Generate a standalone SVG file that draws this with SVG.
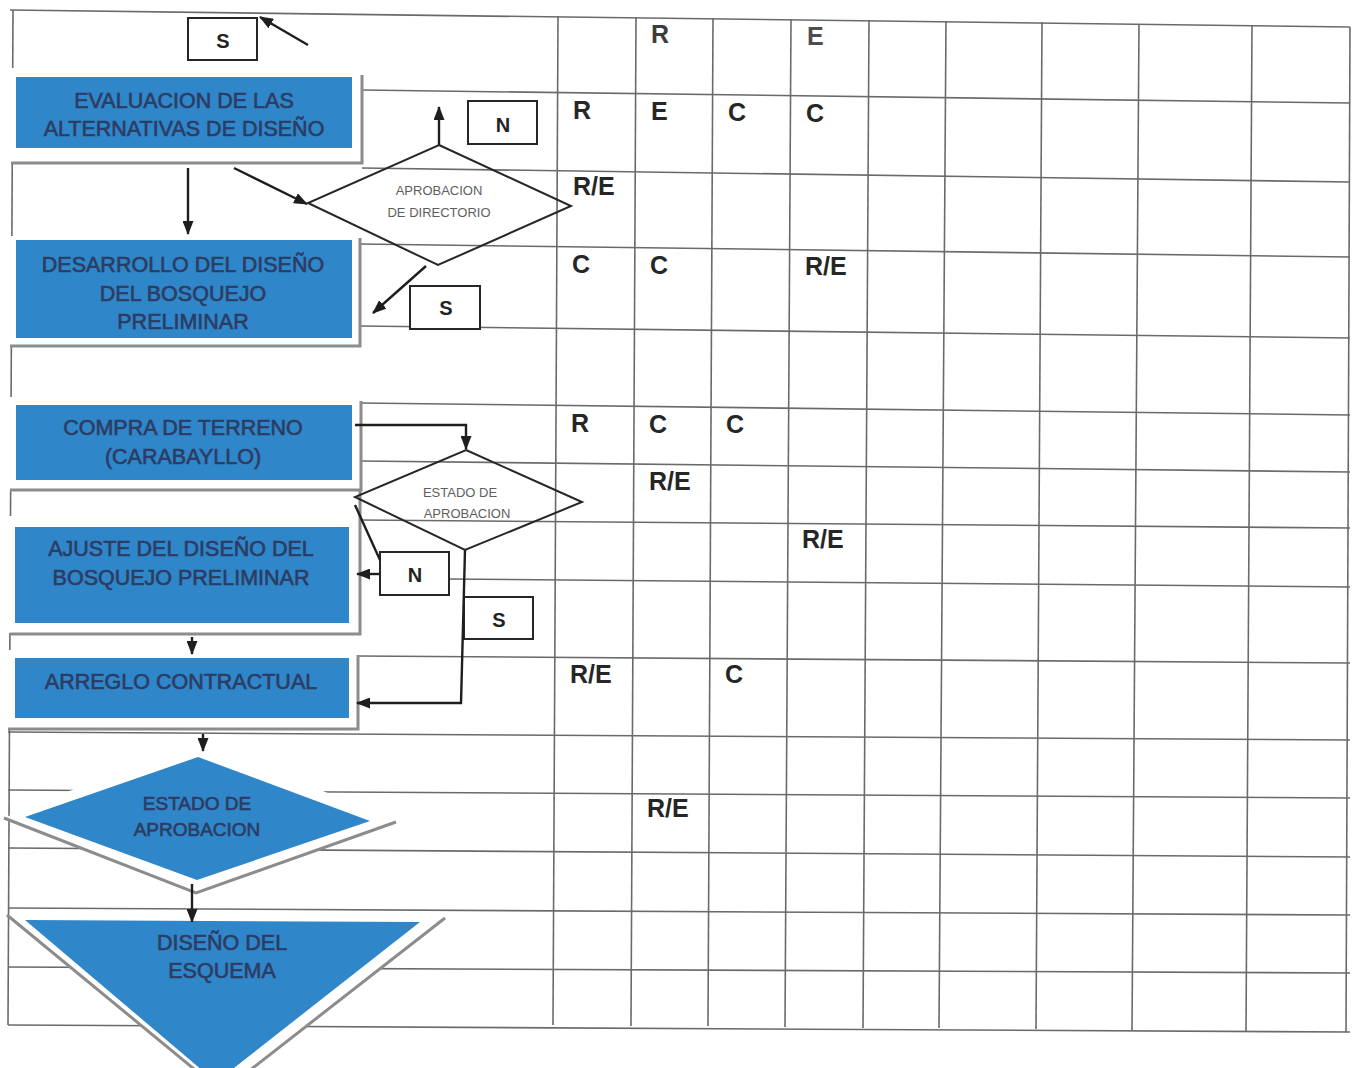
<svg xmlns="http://www.w3.org/2000/svg" width="1355" height="1068" viewBox="0 0 1355 1068">
  <defs>
    <marker id="ah" viewBox="0 0 14 11" refX="13" refY="5.5" markerWidth="14" markerHeight="11" markerUnits="userSpaceOnUse" orient="auto">
      <path d="M0,0 L14,5.5 L0,11 z" fill="#1e1e1e"/>
    </marker>
    <style>
      .grid line { stroke: #6a6a6a; stroke-width: 1.6; }
      .halo { fill: #ffffff; stroke: none; }
      .shadow { fill: none; stroke: #8c8c8c; stroke-width: 3; }
      .blue { fill: #2f86c8; stroke: none; }
      .lbl { font-family: "Liberation Sans", Arial, sans-serif; font-size: 21.5px; fill: #2c3c64; stroke: #2c3c64; stroke-width: 0.6; text-anchor: middle; }
      .dlbl { font-family: "Liberation Sans", Arial, sans-serif; font-size: 13px; fill: #5e5e5e; text-anchor: middle; }
      .wd { fill: none; stroke: #262626; stroke-width: 2; }
      .tag rect { fill: #ffffff; stroke: #262626; stroke-width: 2; }
      .tag text { font-family: "Liberation Sans", Arial, sans-serif; font-size: 20px; font-weight: bold; fill: #222222; text-anchor: middle; }
      .raci { font-family: "Liberation Sans", Arial, sans-serif; font-size: 25px; font-weight: bold; fill: #262626; }
      .conn line, .conn path { fill: none; stroke: #1e1e1e; stroke-width: 2.4; }
    </style>
  </defs>

  <rect width="1355" height="1068" fill="#ffffff"/>

  <!-- responsibility matrix grid -->
  <g id="grid" class="grid">
    <line x1="10" y1="10" x2="1350" y2="27"/>
    <line x1="362" y1="90" x2="1350" y2="103"/>
    <line x1="362" y1="168" x2="1350" y2="182"/>
    <line x1="360" y1="244" x2="1350" y2="257"/>
    <line x1="360" y1="326" x2="1350" y2="338"/>
    <line x1="360" y1="403" x2="1350" y2="415"/>
    <line x1="360" y1="461" x2="1350" y2="472"/>
    <line x1="360" y1="520" x2="1350" y2="528"/>
    <line x1="449" y1="579" x2="1350" y2="587"/>
    <line x1="358" y1="656" x2="1350" y2="663"/>
    <line x1="8" y1="732" x2="1350" y2="740"/>
    <line x1="8" y1="790" x2="1350" y2="798"/>
    <line x1="8" y1="848" x2="1350" y2="857"/>
    <line x1="8" y1="908" x2="1350" y2="915"/>
    <line x1="8" y1="967" x2="1350" y2="973"/>
    <line x1="8" y1="1025" x2="1350" y2="1032"/>
    <line x1="13" y1="10" x2="8" y2="1025"/>
    <line x1="558" y1="16" x2="553" y2="1025"/>
    <line x1="636" y1="17" x2="631" y2="1026"/>
    <line x1="713" y1="18" x2="708" y2="1026"/>
    <line x1="791" y1="19" x2="785" y2="1027"/>
    <line x1="869" y1="20" x2="863" y2="1028"/>
    <line x1="946" y1="21" x2="939" y2="1028"/>
    <line x1="1042" y1="22" x2="1036" y2="1029"/>
    <line x1="1139" y1="24" x2="1132" y2="1030"/>
    <line x1="1252" y1="25" x2="1246" y2="1031"/>
    <line x1="1350" y1="27" x2="1346" y2="1032"/>
  </g>

  <!-- matrix entries -->
  <g id="matrix-entries" class="raci">
    <text x="651" y="43" fill="#3c3c3c">R</text>
    <text x="807" y="45" fill="#4e4e4e">E</text>
    <text x="573" y="119">R</text>
    <text x="651" y="120">E</text>
    <text x="728" y="121">C</text>
    <text x="806" y="122">C</text>
    <text x="573" y="195">R/E</text>
    <text x="572" y="273">C</text>
    <text x="650" y="274">C</text>
    <text x="805" y="275">R/E</text>
    <text x="571" y="432">R</text>
    <text x="649" y="433">C</text>
    <text x="726" y="433">C</text>
    <text x="649" y="490">R/E</text>
    <text x="802" y="548">R/E</text>
    <text x="570" y="683">R/E</text>
    <text x="725" y="683">C</text>
    <text x="647" y="817">R/E</text>
  </g>

  <!-- process steps -->
  <g id="evaluacion">
    <rect class="halo" x="2" y="68" width="360" height="94"/>
    <rect class="blue" x="16" y="77" width="336" height="71"/>
    <polyline class="shadow" points="362,75 362,163 11,163"/>
    <text class="lbl" x="184" y="108">EVALUACION DE LAS</text>
    <text class="lbl" x="184" y="136">ALTERNATIVAS DE DISEÑO</text>
  </g>

  <g id="desarrollo">
    <rect class="halo" x="2" y="236" width="358" height="109"/>
    <rect class="blue" x="16" y="240" width="336" height="98"/>
    <polyline class="shadow" points="360,238 360,346 10,346"/>
    <text class="lbl" x="183" y="272">DESARROLLO DEL DISEÑO</text>
    <text class="lbl" x="183" y="301">DEL BOSQUEJO</text>
    <text class="lbl" x="183" y="329">PRELIMINAR</text>
  </g>

  <g id="compra">
    <rect class="halo" x="2" y="397" width="358" height="93"/>
    <rect class="blue" x="16" y="405" width="336" height="75"/>
    <polyline class="shadow" points="361,401 361,490 10,490"/>
    <text class="lbl" x="183" y="435">COMPRA DE TERRENO</text>
    <text class="lbl" x="183" y="464">(CARABAYLLO)</text>
  </g>

  <g id="ajuste">
    <rect class="halo" x="2" y="516" width="356" height="117"/>
    <rect class="blue" x="15" y="527" width="334" height="96"/>
    <polyline class="shadow" points="360,490 360,634 10,634"/>
    <text class="lbl" x="181" y="556">AJUSTE DEL DISEÑO DEL</text>
    <text class="lbl" x="181" y="585">BOSQUEJO PRELIMINAR</text>
  </g>

  <g id="arreglo">
    <rect class="halo" x="2" y="650" width="356" height="78"/>
    <rect class="blue" x="15" y="658" width="334" height="60"/>
    <polyline class="shadow" points="358,655 358,729 8,729"/>
    <text class="lbl" x="181" y="689">ARREGLO CONTRACTUAL</text>
  </g>

  <g id="estado-final">
    <polygon class="halo" points="198,738 396,822 196,894 4,818"/>
    <polyline class="shadow" points="4,818 196,893 396,822"/>
    <polygon class="blue" points="198,757 370,821 197,880 25,817"/>
    <text class="lbl" style="font-size:19px" x="197" y="810">ESTADO DE</text>
    <text class="lbl" style="font-size:19px" x="197" y="836">APROBACION</text>
  </g>

  <g id="diseno-esquema">
    <polygon class="halo" points="7,915 445,918 222,1092"/>
    <polyline class="shadow" points="7,915 222,1092 445,918"/>
    <polygon class="blue" points="25,920 420,922 216,1082"/>
    <text class="lbl" x="222" y="950">DISEÑO DEL</text>
    <text class="lbl" x="222" y="978">ESQUEMA</text>
  </g>

  <g id="aprobacion-directorio">
    <polygon class="wd" points="439,145 571,206 438,265 308,203"/>
    <text class="dlbl" x="439" y="195">APROBACION</text>
    <text class="dlbl" x="439" y="217">DE DIRECTORIO</text>
  </g>

  <g id="estado-aprobacion">
    <polygon class="wd" points="466,450 582,502 465,550 355,497"/>
    <text class="dlbl" x="460" y="497">ESTADO DE</text>
    <text class="dlbl" x="467" y="518">APROBACION</text>
  </g>

  <!-- yes / no tags -->
  <g id="tag-s-top" class="tag">
    <rect x="188" y="18" width="69" height="42"/>
    <text x="223" y="48">S</text>
  </g>
  <g id="tag-n-top" class="tag">
    <rect x="468" y="101" width="69" height="43"/>
    <text x="503" y="132">N</text>
  </g>
  <g id="tag-s-mid" class="tag">
    <rect x="410" y="286" width="70" height="43"/>
    <text x="446" y="315">S</text>
  </g>
  <g id="tag-n-low" class="tag">
    <rect x="380" y="552" width="69" height="43"/>
    <text x="415" y="582">N</text>
  </g>
  <g id="tag-s-low" class="tag">
    <rect x="464" y="597" width="69" height="42"/>
    <text x="499" y="627">S</text>
  </g>

  <!-- connectors -->
  <g id="connectors" class="conn">
    <line x1="308" y1="45" x2="260" y2="17" marker-end="url(#ah)"/>
    <line x1="188" y1="168" x2="188" y2="234" marker-end="url(#ah)"/>
    <line x1="234" y1="168" x2="307" y2="204" marker-end="url(#ah)"/>
    <line x1="439" y1="145" x2="439" y2="107" marker-end="url(#ah)"/>
    <line x1="426" y1="266" x2="373" y2="313" marker-end="url(#ah)"/>
    <path d="M355,425 H466 V449" marker-end="url(#ah)"/>
    <line x1="355" y1="505" x2="380" y2="560"/>
    <line x1="380" y1="574" x2="357" y2="574" marker-end="url(#ah)"/>
    <path d="M465,550 L461,703 H357" marker-end="url(#ah)"/>
    <line x1="192" y1="637" x2="192" y2="654" marker-end="url(#ah)"/>
    <line x1="203" y1="734" x2="203" y2="751" marker-end="url(#ah)"/>
    <line x1="192" y1="884" x2="192" y2="922" marker-end="url(#ah)"/>
  </g>
</svg>
